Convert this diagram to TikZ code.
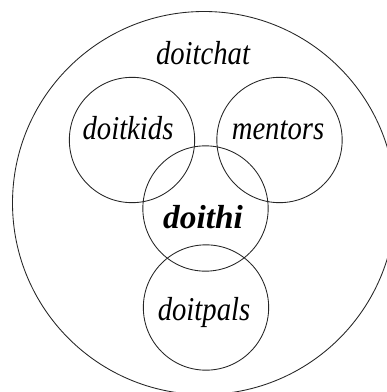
\documentclass[tikz,border=0pt]{standalone}
\usepackage{fontspec}
\setmainfont{Liberation Serif}
\newfontfamily\labelfont{Liberation Serif}[FakeStretch=0.86]
\usepackage{tikz}

\begin{document}
\begin{tikzpicture} [x=0.75pt,y=-0.75pt,
    ring/.style={circle,draw=black!85,line width=0.65pt,inner sep=0pt,minimum size=94pt},
    lbl/.style={anchor=base,inner sep=0pt,font=\labelfont\itshape\fontsize{25}{29}\selectfont}]
    \useasboundingbox (0,0) rectangle (386,392);
      \node[ring,minimum size=287.25pt] (chat) at (204,203) {};
      \node[ring] (kids) at (132,140) {};
      \node[ring] (mentors) at (279.5,140) {};
      \node[ring] (hi) at (205.5,208.5) {};
      \node[ring] (pals) at (206,307.5) {};
      \node[lbl] (chatlbl) at (203,65) {doitchat};
      \node[lbl] (kidslbl) at (128,140) {doitkids};
      \node[lbl] (mentorslbl) at (278,140) {mentors};
      \node[lbl,font=\bfseries\itshape\fontsize{25}{29}\selectfont] (hilbl) at (203,228) {doithi};
      \node[lbl] (palslbl) at (204,320) {doitpals};
    \end{tikzpicture}
\end{document}
